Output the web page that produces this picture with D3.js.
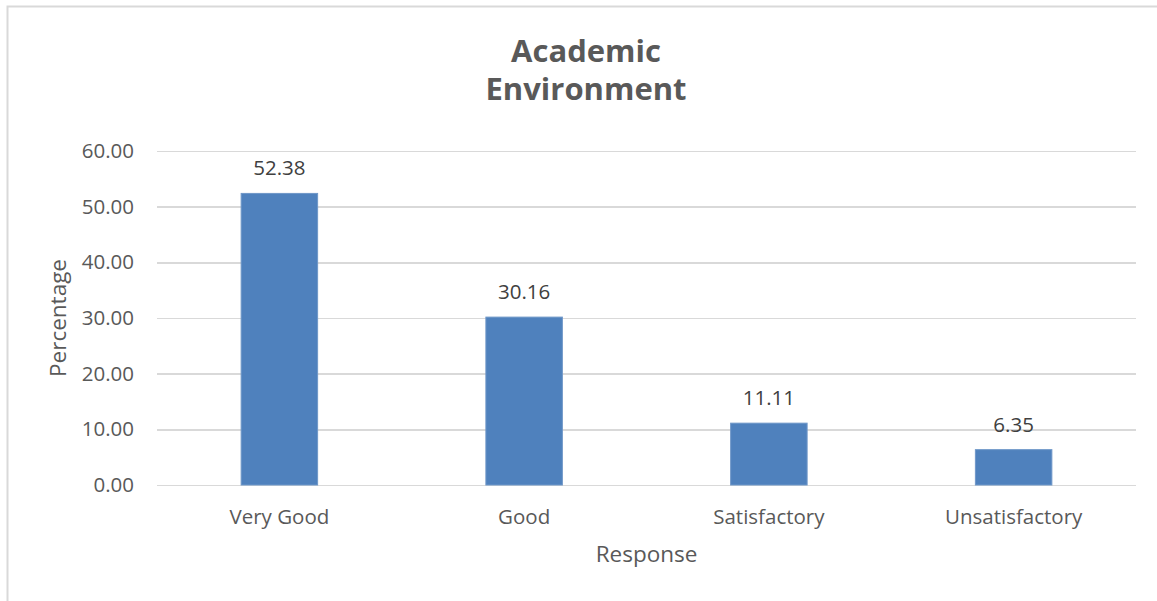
<!doctype html>
<html lang='en'>
<head>
<meta charset='UTF-8'>
<title>Academic Environment</title>
<style>
  body, html { margin: 0; padding: 0; background: #fff; }
  svg { display: block; font-family: 'Open Sans', sans-serif; }
  .grid line { stroke: #d9d9d9; stroke-width: 1.5; shape-rendering: crispEdges; }
  .grid path { display: none; }
  .axis path, .axis line { display: none; }
  .axis text { fill: #595959; font-size: 20.5px; font-family: 'Open Sans', sans-serif; }
  .bar { fill: #4f81bd; stroke: #6f97c8; stroke-width: 1; }
  .bar-label { fill: #404040; font-size: 20.5px; text-anchor: middle; }
  .title { fill: #595959; font-size: 31px; font-weight: bold; text-anchor: middle; }
  .axis-title { fill: #595959; font-size: 22.5px; text-anchor: middle; }
</style>
</head>
<body>
<script src='https://d3js.org/d3.v7.min.js'></script>
<script>
  const categories = ['Very Good', 'Good', 'Satisfactory', 'Unsatisfactory']
  const values = [52.38, 30.16, 11.11, 6.35]
  const yTicks = [0, 10, 20, 30, 40, 50, 60]
  const titleLines = ['Academic', 'Environment']

  const w = 1157
  const h = 601
  const margin = {top: 151, left: 157, right: 21, bottom: 116}
  const width = w - margin.left - margin.right
  const height = h - margin.top - margin.bottom

  const svg = d3.select('body').append('svg')
    .attr('width', w)
    .attr('height', h)

  // chart frame (only left/top visible in the crop)
  svg.append('path')
    .attr('d', `M7.5,${h} L7.5,6.5 L${w},6.5`)
    .attr('fill', 'none')
    .attr('stroke', '#d9d9d9')
    .attr('stroke-width', 2)

  const x = d3.scaleBand()
    .domain(categories)
    .range([0, width])
    .paddingInner(0.6875)
    .paddingOuter(0.34375)

  const y = d3.scaleLinear()
    .domain([0, 60])
    .range([height, 0])

  const chart = svg.append('g')
    .attr('transform', `translate(${margin.left}, ${margin.top})`)

  // gridlines
  chart.append('g')
    .attr('class', 'grid')
    .call(d3.axisLeft(y).tickValues(yTicks).tickSize(-width).tickFormat(''))

  // y axis labels
  chart.append('g')
    .attr('class', 'axis y')
    .call(d3.axisLeft(y).tickValues(yTicks).tickSize(0).tickPadding(23).tickFormat(d3.format('.2f')))

  // x axis labels
  chart.append('g')
    .attr('class', 'axis x')
    .attr('transform', `translate(0, ${height})`)
    .call(d3.axisBottom(x).tickSize(0).tickPadding(24))

  // bars
  chart.selectAll('.bar')
    .data(values)
    .enter()
    .append('rect')
    .attr('class', 'bar')
    .attr('x', (d, i) => x(categories[i]))
    .attr('y', d => y(d))
    .attr('width', x.bandwidth())
    .attr('height', d => height - y(d))

  chart.selectAll('.bar-label')
    .data(values)
    .enter()
    .append('text')
    .attr('class', 'bar-label')
    .attr('x', (d, i) => x(categories[i]) + x.bandwidth() / 2)
    .attr('y', d => y(d) - 18)
    .text(d => d3.format('.2f')(d))

  // titles
  svg.append('text')
    .attr('class', 'title')
    .selectAll('tspan')
    .data(titleLines)
    .enter()
    .append('tspan')
    .attr('x', 586)
    .attr('y', (d, i) => 62 + i * 38)
    .text(d => d)

  svg.append('text')
    .attr('class', 'axis-title')
    .attr('x', margin.left + width / 2)
    .attr('y', 562)
    .text('Response')

  svg.append('text')
    .attr('class', 'axis-title')
    .attr('transform', `translate(66, ${margin.top + height / 2}) rotate(-90)`)
    .text('Percentage')
</script>
</body>
</html>
